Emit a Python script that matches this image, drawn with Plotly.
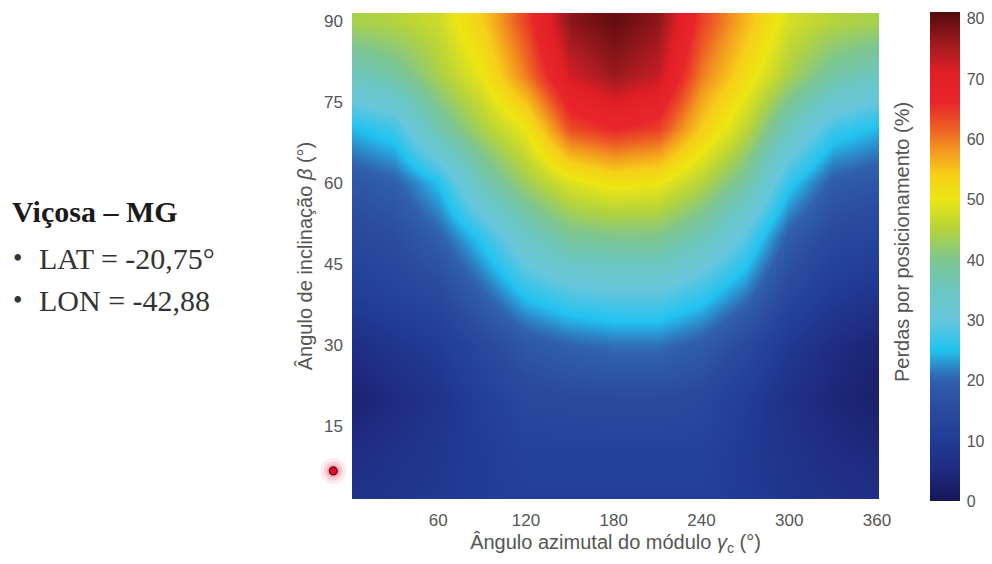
import plotly.graph_objects as go

# Azimuth (x) and tilt (y) grid, degrees
azimuth = [0, 30, 60, 90, 120, 150, 180, 210, 240, 270, 300, 330, 360]
tilt = [0, 10, 20, 30, 40, 50, 60, 70, 80, 90]

# Losses by positioning (%) — rows follow tilt, columns follow azimuth
loss_t0 = [7.5, 8, 9, 10, 11, 11, 11, 11, 11, 9.5, 8, 7, 6.5]
loss_t10 = [5.5, 7, 8.5, 10, 12, 12, 12, 12, 12, 9.5, 7.5, 5.5, 4.5]
loss_t20 = [3, 5, 7.5, 11, 14, 14.5, 15, 15, 14, 10.5, 6.5, 4, 2.5]
loss_t30 = [5.5, 8, 10, 14, 18, 20, 21, 21, 19, 14.5, 9, 5.5, 3.5]
loss_t40 = [11, 12.5, 14.5, 20, 26, 29, 30, 30, 27, 22, 14, 10, 8]
loss_t50 = [14, 15.5, 19.5, 26, 34, 39, 40, 40, 36, 29, 19, 14, 13]
loss_t60 = [17.5, 19.5, 25, 36, 43, 48.5, 51, 50, 45, 38, 26, 19, 17.5]
loss_t70 = [24.5, 27, 37, 44, 50, 63, 66, 64, 54, 46, 35, 27, 24.5]
loss_t80 = [35, 38, 44, 50, 60, 72, 76, 73, 60, 52, 44, 38, 35]
loss_t90 = [44, 45, 47, 54, 64, 77, 80, 77, 64, 56, 48, 45, 44]

losses = [loss_t0, loss_t10, loss_t20, loss_t30, loss_t40,
          loss_t50, loss_t60, loss_t70, loss_t80, loss_t90]

x_ticks = [60, 120, 180, 240, 300, 360]
y_ticks = [15, 30, 45, 60, 75, 90]
cbar_ticks = [0, 10, 20, 30, 40, 50, 60, 70, 80]

# Highlighted location marker (left of the plot, in axis units)
marker_x = [-11.8]
marker_y = [6.6]

x_range = [1, 361.4]
y_range = [1.4, 91.5]
z_range = [0, 81]

# colour stops given at loss values (%)
scale_values = [0, 5, 10, 15, 20, 22, 25, 30, 35, 40, 45, 50, 54, 58, 62, 66, 71, 75, 81]
scale_colors = ["#161657", "#1f2b80", "#213c95", "#2a4a9f", "#3060ae", "#2d83c5",
                "#22c3f0", "#66c6dc", "#6cc7c2", "#7dc690", "#b4d33c", "#ece613",
                "#f6cf18", "#f39a1f", "#ed5a25", "#e8262a", "#e01e26", "#a81c20",
                "#550a0c"]
colorscale = [[(v - z_range[0]) / (z_range[1] - z_range[0]), c]
              for v, c in zip(scale_values, scale_colors)]

gray = "#555555"
sans = "Liberation Sans, Arial, sans-serif"
serif = "Liberation Serif, Times New Roman, serif"

# the page body adds an 8px margin on every side; size the figure to fit the window
OFF = 8
W, H = 992 - 2 * OFF, 564 - 2 * OFF
ML, MT = 352 - OFF, 13 - OFF
MR = W - (879 - OFF)
MB = H - (499 - OFF)
PW, PH = W - ML - MR, H - MT - MB

fig = go.Figure()

fig.add_trace(go.Heatmap(
    x=azimuth, y=tilt, z=losses,
    zsmooth="best", zmin=z_range[0], zmax=z_range[1],
    colorscale=colorscale,
    colorbar=dict(
        x=(930 - 352) / PW, xanchor="left",
        y=(499 - 257) / PH, yanchor="middle",
        xpad=0, ypad=0,
        thickness=30, thicknessmode="pixels",
        len=489, lenmode="pixels",
        outlinewidth=0,
        tickvals=cbar_ticks,
        ticks="outside", ticklen=4, tickcolor="rgba(0,0,0,0)",
        tickfont=dict(family=sans, size=16, color=gray),
    ),
    hoverinfo="skip",
))

# marker position: axis units -> paper fraction (outside the plot, so drawn as paper shapes)
for mx, my in zip(marker_x, marker_y):
    px = (mx - x_range[0]) / (x_range[1] - x_range[0])
    py = (my - y_range[0]) / (y_range[1] - y_range[0])
    for r, fill, line_c, lw in [(13, "rgba(240,70,100,0.10)", None, 0),
                                (9.5, "rgba(240,70,100,0.18)", None, 0),
                                (6.5, "rgba(240,70,100,0.28)", None, 0),
                                (3.8, "#e8102a", "#7a0816", 1.6)]:
        fig.add_shape(type="circle", xref="paper", yref="paper",
                      x0=px - r / PW, x1=px + r / PW, y0=py - r / PH, y1=py + r / PH,
                      fillcolor=fill,
                      line=dict(width=lw, color=line_c if line_c else "rgba(0,0,0,0)"),
                      layer="above")

fig.update_xaxes(
    range=x_range, tickvals=x_ticks, automargin=False,
    showgrid=False, zeroline=False, showline=False, ticks="",
    ticklabelstandoff=9,
    tickfont=dict(family=sans, size=17, color=gray),
    title=dict(text="Ângulo azimutal do módulo <i>γ</i><sub>c</sub> (°)",
               font=dict(family=sans, size=20, color=gray), standoff=7),
)
fig.update_yaxes(
    range=y_range, tickvals=y_ticks, automargin=False,
    showgrid=False, zeroline=False, showline=False, ticks="",
    ticklabelstandoff=8,
    tickfont=dict(family=sans, size=17, color=gray),
    title=dict(text="Ângulo de inclinação <i>β</i> (°)",
               font=dict(family=sans, size=20, color=gray), standoff=6),
)

# positions given in window pixels
def px_x(p):
    return (p - 352) / PW

def px_y(p):
    return (499 - p) / PH

annotations = [
    dict(text="Perdas por posicionamento (%)", x=px_x(902), y=px_y(242),
         xref="paper", yref="paper", textangle=-90, showarrow=False,
         font=dict(family=sans, size=20, color=gray), xanchor="center", yanchor="middle"),
    dict(text="<b>Viçosa – MG</b>", x=px_x(10), y=px_y(211),
         xref="paper", yref="paper", showarrow=False, xanchor="left", yanchor="middle",
         font=dict(family=serif, size=30, color="#1a1a1a")),
    dict(text="•", x=px_x(11), y=px_y(258),
         xref="paper", yref="paper", showarrow=False, xanchor="left", yanchor="middle",
         font=dict(family=serif, size=27, color="#333333")),
    dict(text="LAT = -20,75°", x=px_x(37), y=px_y(258),
         xref="paper", yref="paper", showarrow=False, xanchor="left", yanchor="middle",
         font=dict(family=serif, size=30, color="#333333")),
    dict(text="•", x=px_x(11), y=px_y(300),
         xref="paper", yref="paper", showarrow=False, xanchor="left", yanchor="middle",
         font=dict(family=serif, size=27, color="#333333")),
    dict(text="LON = -42,88", x=px_x(37), y=px_y(300),
         xref="paper", yref="paper", showarrow=False, xanchor="left", yanchor="middle",
         font=dict(family=serif, size=30, color="#333333")),
]

fig.update_layout(
    width=W, height=H,
    margin=dict(l=ML, r=MR, t=MT, b=MB, pad=0, autoexpand=False),
    paper_bgcolor="white", plot_bgcolor="white",
    showlegend=False,
    annotations=annotations,
)

fig.write_html("out.html")
